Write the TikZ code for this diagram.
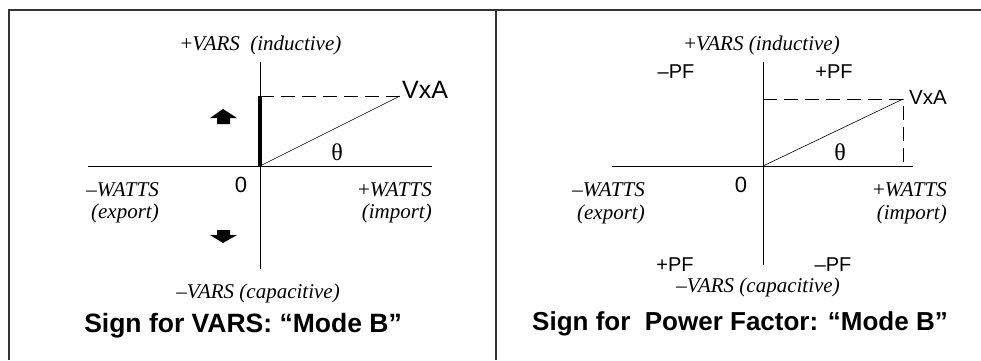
\documentclass[tikz,border=0pt]{standalone}
\usepackage{fontspec}
\setmainfont{Liberation Serif}
\setsansfont{Liberation Sans}
\usetikzlibrary{positioning}

\tikzset{
    axis/.style={line width=0.8pt},
    dashline/.style={line width=0.8pt, dash pattern=on 14pt off 7pt},
    frameline/.style={line width=1.3pt, black!80},
    italbl/.style={inner sep=0pt, font=\fontsize{21}{25}\selectfont\itshape},
    sflbl/.style={inner sep=0pt, font=\fontsize{20}{24}\selectfont\sffamily},
    thetalbl/.style={inner sep=0pt, font=\fontsize{24}{28}\selectfont},
    ttl/.style={inner sep=0pt, font=\fontsize{26.5}{30}\selectfont\sffamily\bfseries},
    signarrow/.style={fill=black, draw=none},
}

\begin{document}
\begin{tikzpicture}[x=1pt, y=-1pt]
    \useasboundingbox (0,0) rectangle (981,360);
    % frame
    \draw[frameline] (9,360) -- (9,10) -- (981,10);
    \draw[frameline] (496,10) -- (496,360);

    % left panel: sign for VARS
    \coordinate (LO) at (260,166);
    \coordinate (Ltop) at (260,62);
    \coordinate (Lbot) at (260,269);
    \coordinate (Lwest) at (88,166);
    \coordinate (Least) at (432,166);
    \coordinate (LV) at (260,96);
    \coordinate (LP) at (400,96);
    \draw[axis] (Lwest) -- (Least);
    \draw[axis] (Ltop) -- (Lbot);
    \draw[line width=3.5pt] (LO) -- (LV);
    \draw[dashline] (LV) -- (LP);
    \draw[line width=0.6pt] (LO) -- (LP);
    \fill[signarrow] (223,109) -- (237,118) -- (230,118) -- (230,124) -- (217,124) -- (217,118) -- (210,118) -- cycle;
    \fill[signarrow] (217,230) -- (230,230) -- (230,235) -- (237,235) -- (223,243) -- (210,235) -- (217,235) -- cycle;

    \node[italbl, anchor=base] (Lvarsp) at (261,50) {{\upshape+}VARS\ \ (inductive)};
    \node[sflbl, font=\fontsize{25}{30}\selectfont\sffamily, anchor=base west] (Lvxa) at (402,98) {VxA};
    \node[thetalbl, anchor=base] (Ltheta) at (337,160) {θ};
    \node[sflbl, font=\fontsize{22}{26}\selectfont\sffamily, anchor=base] (Lzero) at (241,192) {0};
    \node[italbl, anchor=base east] (Lwattsm) at (159,196) {–WATTS};
    \node[italbl, anchor=base east] (Lexport) at (159,218) {(export)};
    \node[italbl, anchor=base east] (Lwattsp) at (432,196) {{\upshape+}WATTS};
    \node[italbl, anchor=base east] (Limport) at (432,218) {(import)};
    \node[italbl, anchor=base] (Lvarsm) at (258,298) {–VARS (capacitive)};
    \node[ttl, anchor=base] (Ltitle) at (243,332) {Sign for VARS: “Mode B”};

    % right panel: sign for power factor
    \coordinate (RO) at (763,166);
    \coordinate (Rtop) at (763,62);
    \coordinate (Rbot) at (763,265);
    \coordinate (Rwest) at (612,166);
    \coordinate (Reast) at (913,166);
    \coordinate (RV) at (763,99);
    \coordinate (RP) at (903,99);
    \coordinate (RX) at (903,166);
    \draw[axis] (Rwest) -- (Reast);
    \draw[axis] (Rtop) -- (Rbot);
    \draw[dashline] (RV) -- (RP) -- (RX);
    \draw[line width=0.6pt] (RO) -- (RP);

    \node[italbl, anchor=base] (Rvarsp) at (762,50) {{\upshape+}VARS (inductive)};
    \node[sflbl, anchor=base] (Rpfnw) at (676,78) {–PF};
    \node[sflbl, anchor=base] (Rpfne) at (834,78) {+PF};
    \node[sflbl, anchor=base] (Rpfsw) at (675,271) {+PF};
    \node[sflbl, anchor=base] (Rpfse) at (833,271) {–PF};
    \node[sflbl, font=\fontsize{20.5}{24}\selectfont\sffamily, anchor=base west] (Rvxa) at (909,104) {VxA};
    \node[thetalbl, anchor=base] (Rtheta) at (840,160) {θ};
    \node[sflbl, font=\fontsize{22}{26}\selectfont\sffamily, anchor=base] (Rzero) at (741,192) {0};
    \node[italbl, anchor=base east] (Rwattsm) at (645,196) {–WATTS};
    \node[italbl, anchor=base east] (Rexport) at (645,219) {(export)};
    \node[italbl, anchor=base east] (Rwattsp) at (947,196) {{\upshape+}WATTS};
    \node[italbl, anchor=base east] (Rimport) at (947,219) {(import)};
    \node[italbl, anchor=base] (Rvarsm) at (758,292) {–VARS (capacitive)};
    \node[ttl, font=\fontsize{26}{30}\selectfont\sffamily\bfseries, anchor=base] (Rtitle) at (740,330) {Sign for\ \ Power Factor: “Mode B”};
\end{tikzpicture}
\end{document}
